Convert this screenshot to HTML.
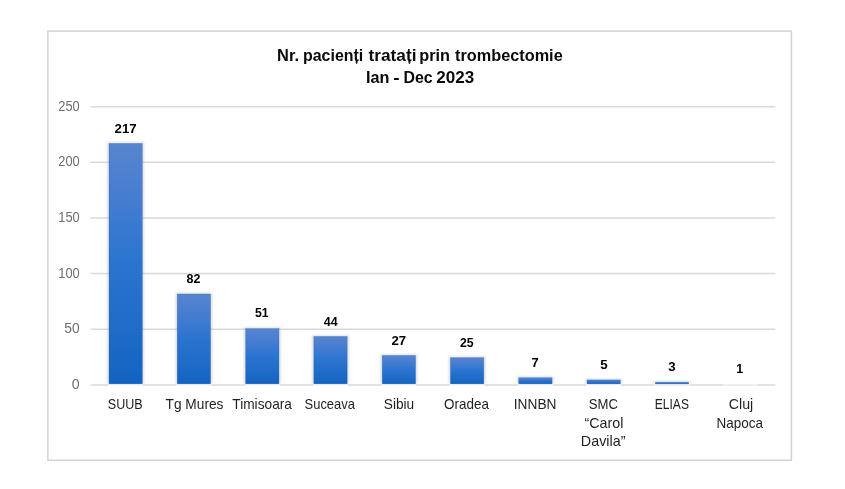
<!DOCTYPE html>
<html lang="ro">
<head>
<meta charset="utf-8">
<title>Nr. pacienți tratați prin trombectomie</title>
<style>
html,body{margin:0;padding:0;background:#fff;}
body{width:845px;height:489px;overflow:hidden;}
svg{display:block;}
text{font-family:"Liberation Sans",sans-serif;}
</style>
</head>
<body>
<svg width="845" height="489" viewBox="0 0 845 489">
<defs>
<linearGradient id="bar" x1="0" y1="0" x2="0" y2="1">
<stop offset="0" stop-color="#5785cf"/>
<stop offset="0.25" stop-color="#447cd1"/>
<stop offset="0.5" stop-color="#2a74d0"/>
<stop offset="0.75" stop-color="#216cc8"/>
<stop offset="1" stop-color="#1264c2"/>
</linearGradient>
<filter id="sh" x="-30%" y="-10%" width="160%" height="120%"><feGaussianBlur stdDeviation="0.9"/></filter>
</defs>
<rect x="0" y="0" width="845" height="489" fill="#ffffff"/>
<rect x="47.85" y="31.1" width="743.55" height="429.15" fill="#ffffff" stroke="#d4d4d4" stroke-width="1.5"/>
<line x1="90.6" y1="106.7" x2="775.4" y2="106.7" stroke="#dadada" stroke-width="1.5"/>
<line x1="90.6" y1="162.3" x2="775.4" y2="162.3" stroke="#dadada" stroke-width="1.5"/>
<line x1="90.6" y1="218.0" x2="775.4" y2="218.0" stroke="#dadada" stroke-width="1.5"/>
<line x1="90.6" y1="273.6" x2="775.4" y2="273.6" stroke="#dadada" stroke-width="1.5"/>
<line x1="90.6" y1="329.3" x2="775.4" y2="329.3" stroke="#dadada" stroke-width="1.5"/>
<line x1="90.6" y1="384.9" x2="775.4" y2="384.9" stroke="#dadada" stroke-width="1.5"/>
<rect x="108.2" y="383.4" width="35.0" height="2.4" fill="#ffffff" opacity="1"/>
<rect x="107.2" y="142.2" width="36.8" height="241.4" fill="#9a9ea8" opacity="0.34" filter="url(#sh)"/>
<rect x="109.0" y="143.4" width="33.4" height="240.5" fill="url(#bar)" stroke="#2f5fa8" stroke-opacity="0.4" stroke-width="0.6"/>
<rect x="176.4" y="383.4" width="35.0" height="2.4" fill="#ffffff" opacity="1"/>
<rect x="175.6" y="292.8" width="36.8" height="90.8" fill="#9a9ea8" opacity="0.34" filter="url(#sh)"/>
<rect x="177.2" y="294.0" width="33.4" height="89.9" fill="url(#bar)" stroke="#2f5fa8" stroke-opacity="0.4" stroke-width="0.6"/>
<rect x="244.8" y="383.4" width="35.0" height="2.4" fill="#ffffff" opacity="1"/>
<rect x="243.9" y="327.4" width="36.8" height="56.2" fill="#9a9ea8" opacity="0.34" filter="url(#sh)"/>
<rect x="245.6" y="328.6" width="33.4" height="55.3" fill="url(#bar)" stroke="#2f5fa8" stroke-opacity="0.4" stroke-width="0.6"/>
<rect x="313.0" y="383.4" width="35.0" height="2.4" fill="#ffffff" opacity="1"/>
<rect x="312.1" y="335.2" width="36.8" height="48.4" fill="#9a9ea8" opacity="0.34" filter="url(#sh)"/>
<rect x="313.8" y="336.4" width="33.4" height="47.5" fill="url(#bar)" stroke="#2f5fa8" stroke-opacity="0.4" stroke-width="0.6"/>
<rect x="381.4" y="383.4" width="35.0" height="2.4" fill="#ffffff" opacity="1"/>
<rect x="380.5" y="354.2" width="36.8" height="29.4" fill="#9a9ea8" opacity="0.34" filter="url(#sh)"/>
<rect x="382.2" y="355.4" width="33.4" height="28.5" fill="url(#bar)" stroke="#2f5fa8" stroke-opacity="0.4" stroke-width="0.6"/>
<rect x="449.6" y="383.4" width="35.0" height="2.4" fill="#ffffff" opacity="1"/>
<rect x="448.8" y="356.4" width="36.8" height="27.2" fill="#9a9ea8" opacity="0.34" filter="url(#sh)"/>
<rect x="450.4" y="357.6" width="33.4" height="26.3" fill="url(#bar)" stroke="#2f5fa8" stroke-opacity="0.4" stroke-width="0.6"/>
<rect x="517.9" y="383.4" width="35.0" height="2.4" fill="#ffffff" opacity="1"/>
<rect x="517.0" y="376.5" width="36.8" height="7.1" fill="#9a9ea8" opacity="0.34" filter="url(#sh)"/>
<rect x="518.7" y="377.7" width="33.4" height="6.2" fill="url(#bar)" stroke="#2f5fa8" stroke-opacity="0.4" stroke-width="0.6"/>
<rect x="586.2" y="383.4" width="35.0" height="2.4" fill="#ffffff" opacity="1"/>
<rect x="585.3" y="378.7" width="36.8" height="4.9" fill="#9a9ea8" opacity="0.34" filter="url(#sh)"/>
<rect x="587.0" y="379.9" width="33.4" height="4.0" fill="url(#bar)" stroke="#2f5fa8" stroke-opacity="0.4" stroke-width="0.6"/>
<rect x="654.5" y="383.4" width="35.0" height="2.4" fill="#ffffff" opacity="0.55"/>
<rect x="653.6" y="381.0" width="36.8" height="2.6" fill="#9a9ea8" opacity="0.34" filter="url(#sh)"/>
<rect x="655.3" y="382.2" width="33.4" height="1.7" fill="url(#bar)" stroke="#2f5fa8" stroke-opacity="0.4" stroke-width="0.6"/>
<rect x="723.1" y="383.5" width="34.4" height="2.2" fill="#ffffff" opacity="0.45"/>
<text x="107.80" y="408.9" font-size="14.1" font-weight="normal" fill="#1f1f1f" textLength="34.90" lengthAdjust="spacingAndGlyphs">SUUB</text>
<text x="165.55" y="408.9" font-size="14.1" font-weight="normal" fill="#1f1f1f" textLength="57.90" lengthAdjust="spacingAndGlyphs">Tg Mures</text>
<text x="232.30" y="408.9" font-size="14.1" font-weight="normal" fill="#1f1f1f" textLength="59.65" lengthAdjust="spacingAndGlyphs">Timisoara</text>
<text x="304.55" y="408.9" font-size="14.1" font-weight="normal" fill="#1f1f1f" textLength="50.40" lengthAdjust="spacingAndGlyphs">Suceava</text>
<text x="383.80" y="408.9" font-size="14.1" font-weight="normal" fill="#1f1f1f" textLength="30.40" lengthAdjust="spacingAndGlyphs">Sibiu</text>
<text x="444.05" y="408.9" font-size="14.1" font-weight="normal" fill="#1f1f1f" textLength="44.90" lengthAdjust="spacingAndGlyphs">Oradea</text>
<text x="513.80" y="408.9" font-size="14.1" font-weight="normal" fill="#1f1f1f" textLength="42.65" lengthAdjust="spacingAndGlyphs">INNBN</text>
<text x="588.80" y="409.0" font-size="14.1" font-weight="normal" fill="#1f1f1f" textLength="29.15" lengthAdjust="spacingAndGlyphs">SMC</text>
<text x="584.55" y="427.7" font-size="14.1" font-weight="normal" fill="#1f1f1f" textLength="38.90" lengthAdjust="spacingAndGlyphs">“Carol</text>
<text x="580.80" y="446.3" font-size="14.1" font-weight="normal" fill="#1f1f1f" textLength="44.65" lengthAdjust="spacingAndGlyphs">Davila”</text>
<text x="654.80" y="408.9" font-size="14.1" font-weight="normal" fill="#1f1f1f" textLength="34.15" lengthAdjust="spacingAndGlyphs">ELIAS</text>
<text x="728.80" y="409.0" font-size="14.1" font-weight="normal" fill="#1f1f1f" textLength="24.40" lengthAdjust="spacingAndGlyphs">Cluj</text>
<text x="716.55" y="427.7" font-size="14.1" font-weight="normal" fill="#1f1f1f" textLength="46.40" lengthAdjust="spacingAndGlyphs">Napoca</text>
<text x="58.30" y="110.6" font-size="14.0" font-weight="normal" fill="#6e6e6e" textLength="21.40" lengthAdjust="spacingAndGlyphs">250</text>
<text x="58.30" y="166.2" font-size="14.0" font-weight="normal" fill="#6e6e6e" textLength="21.40" lengthAdjust="spacingAndGlyphs">200</text>
<text x="58.30" y="221.9" font-size="14.0" font-weight="normal" fill="#6e6e6e" textLength="21.40" lengthAdjust="spacingAndGlyphs">150</text>
<text x="58.30" y="277.5" font-size="14.0" font-weight="normal" fill="#6e6e6e" textLength="21.40" lengthAdjust="spacingAndGlyphs">100</text>
<text x="64.30" y="333.2" font-size="14.0" font-weight="normal" fill="#6e6e6e" textLength="15.40" lengthAdjust="spacingAndGlyphs">50</text>
<text x="71.80" y="388.9" font-size="14.0" font-weight="normal" fill="#6e6e6e" textLength="7.90" lengthAdjust="spacingAndGlyphs">0</text>
<text x="114.55" y="132.9" font-size="13.0" font-weight="bold" fill="#000" textLength="22.15" lengthAdjust="spacingAndGlyphs">217</text>
<text x="186.55" y="283.2" font-size="13.0" font-weight="bold" fill="#000" textLength="13.90" lengthAdjust="spacingAndGlyphs">82</text>
<text x="255.05" y="317.4" font-size="13.0" font-weight="bold" fill="#000" textLength="13.65" lengthAdjust="spacingAndGlyphs">51</text>
<text x="323.80" y="325.6" font-size="13.0" font-weight="bold" fill="#000" textLength="13.90" lengthAdjust="spacingAndGlyphs">44</text>
<text x="391.55" y="344.8" font-size="13.0" font-weight="bold" fill="#000" textLength="14.65" lengthAdjust="spacingAndGlyphs">27</text>
<text x="460.05" y="346.8" font-size="13.0" font-weight="bold" fill="#000" textLength="13.65" lengthAdjust="spacingAndGlyphs">25</text>
<text x="531.55" y="366.7" font-size="13.0" font-weight="bold" fill="#000" textLength="7.15" lengthAdjust="spacingAndGlyphs">7</text>
<text x="600.30" y="368.7" font-size="13.0" font-weight="bold" fill="#000" textLength="7.40" lengthAdjust="spacingAndGlyphs">5</text>
<text x="668.30" y="370.7" font-size="13.0" font-weight="bold" fill="#000" textLength="7.40" lengthAdjust="spacingAndGlyphs">3</text>
<text x="736.30" y="372.9" font-size="13.0" font-weight="bold" fill="#000" textLength="6.90" lengthAdjust="spacingAndGlyphs">1</text>
<text y="61.0" font-size="16.5" font-weight="bold" fill="#0a0a0a"><tspan x="277.05" textLength="21.90" lengthAdjust="spacingAndGlyphs">Nr.</tspan> <tspan x="303.05" textLength="60.15" lengthAdjust="spacingAndGlyphs">pacienți</tspan> <tspan x="368.55" textLength="47.90" lengthAdjust="spacingAndGlyphs">tratați</tspan> <tspan x="419.30" textLength="30.65" lengthAdjust="spacingAndGlyphs">prin</tspan> <tspan x="455.05" textLength="107.65" lengthAdjust="spacingAndGlyphs">trombectomie</tspan></text>
<text y="83.0" font-size="16.5" font-weight="bold" fill="#0a0a0a"><tspan x="366.05" textLength="23.40" lengthAdjust="spacingAndGlyphs">Ian</tspan> <tspan x="393.30" textLength="6.40" lengthAdjust="spacingAndGlyphs">-</tspan> <tspan x="403.55" textLength="29.15" lengthAdjust="spacingAndGlyphs">Dec</tspan> <tspan x="436.30" textLength="37.90" lengthAdjust="spacingAndGlyphs">2023</tspan></text>
</svg>
</body>
</html>
